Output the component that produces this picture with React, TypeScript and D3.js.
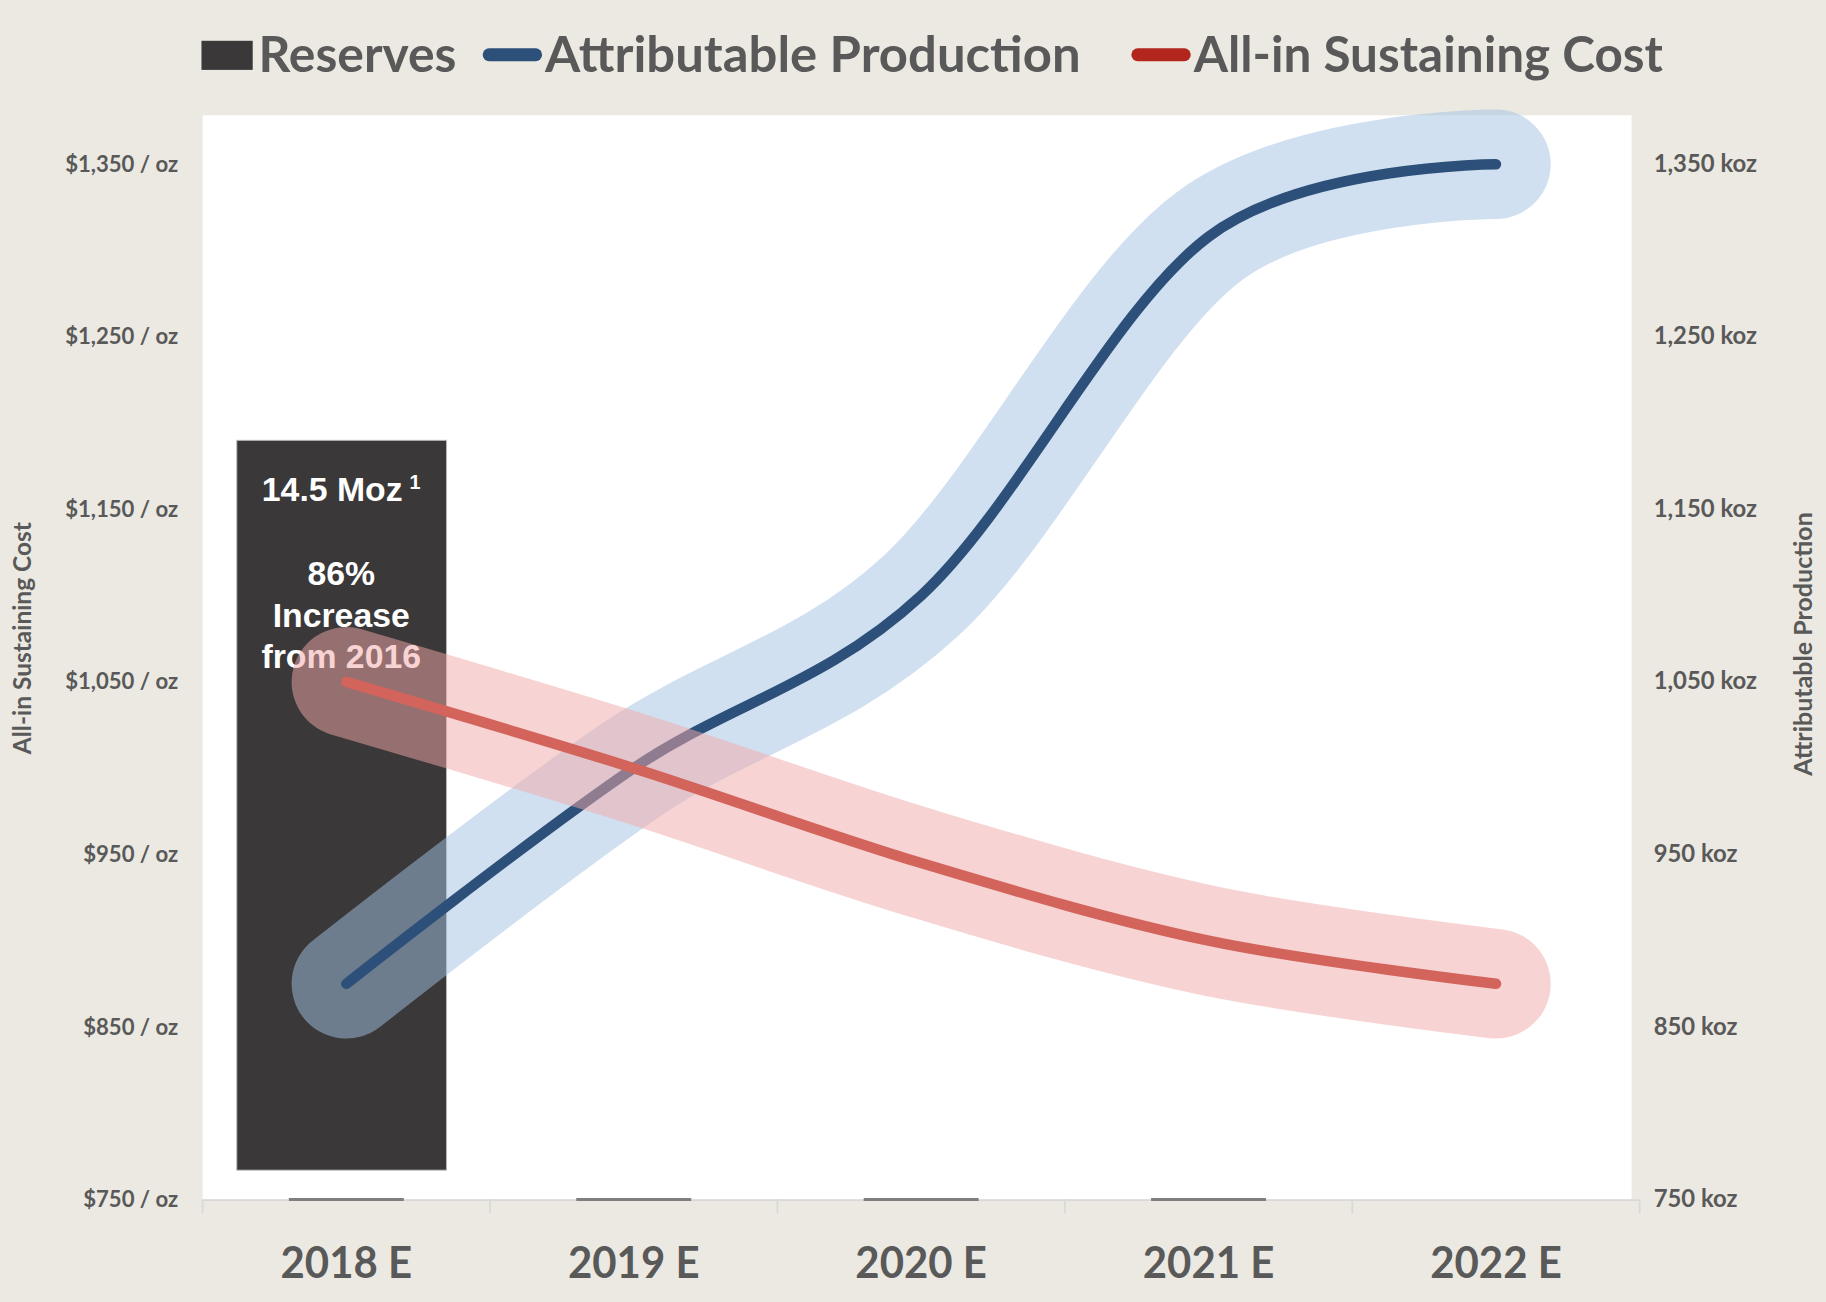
import React from "react";
import * as d3 from "d3";

const categories = ["2018 E", "2019 E", "2020 E", "2021 E", "2022 E"];
const production = [875, 1000, 1100, 1308, 1350];
const aisc = [1050, 1000, 945, 900, 875];
const reservesBar = [{ category: "2018 E", low: 767, high: 1190 }];
const baselineCategories = ["2018 E", "2019 E", "2020 E", "2021 E"];
const leftTicks = [750, 850, 950, 1050, 1150, 1250, 1350];
const rightTicks = [750, 850, 950, 1050, 1150, 1250, 1350];
const barLabelLines = ["14.5 Moz", "", "86%", "Increase", "from 2016"];
const legendItems = [
  { label: "Reserves", kind: "rect", color: "#3A3839" },
  { label: "Attributable Production", kind: "line", color: "#2C5079" },
  { label: "All-in Sustaining Cost", kind: "line", color: "#B3261E" },
];

const W = 1568;
const H = 1118;
const TXT = "#595959";
const FONT = "Lato, 'Open Sans', sans-serif";

export default function App() {
  const x = d3.scaleBand<string>().domain(categories).range([174, 1408]).padding(0);
  const y = d3.scaleLinear().domain([750, 1350]).range([1030, 141]);
  const yR = d3.scaleLinear().domain([750, 1350]).range([1030, 141]);
  const cx = (c: string) => (x(c) as number) + x.bandwidth() / 2;
  const fmt = d3.format(",");

  const line = d3
    .line<number>()
    .x((_, i) => cx(categories[i]))
    .curve(d3.curveCardinal.tension(0));

  const prodPath = line.y((v) => yR(v))(production) as string;
  const aiscPath = line.y((v) => y(v))(aisc) as string;

  const bw = x.bandwidth() * 0.73;
  const legendX = [173, 415, 972];
  const legendTextX = [222, 468, 1025];
  const legendTextW = [170, 460, 403];

  return (
    <svg
      width={1826}
      height={1302}
      viewBox={`0 0 ${W} ${H}`}
      style={{ position: "absolute", left: 0, top: 0, display: "block" }}
    >
      <rect x={0} y={0} width={W} height={H} fill="#EBE9E1" />
      <rect x={174} y={99} width={1227} height={931} fill="#FFFFFF" />

      {/* axis */}
      <line x1={174} x2={1408} y1={1030.5} y2={1030.5} stroke="#D9D9D9" strokeWidth={1.5} />
      {d3.range(categories.length + 1).map((i) => {
        const xx = 174 + i * x.step();
        return <line key={i} x1={xx} x2={xx} y1={1030} y2={1042} stroke="#D9D9D9" strokeWidth={1.5} />;
      })}
      {baselineCategories.map((c) => (
        <line
          key={c}
          x1={cx(c) - x.bandwidth() * 0.2}
          x2={cx(c) + x.bandwidth() * 0.2}
          y1={1030}
          y2={1030}
          stroke="#7F7F7F"
          strokeWidth={2.5}
        />
      ))}

      {/* bar */}
      {reservesBar.map((b) => (
        <rect
          key={b.category}
          x={cx(b.category) - 4 - bw / 2}
          y={y(b.high)}
          width={bw}
          height={y(b.low) - y(b.high)}
          fill="#3A3839"
          stroke="#BFBFBF"
          strokeWidth={0.8}
        />
      ))}
      {barLabelLines.map((t, i) =>
        t ? (
          <text
            key={i}
            x={293}
            y={430 + i * 36}
            textAnchor="middle"
            fill="#FFFFFF"
            fontFamily="'Liberation Sans', Arial, sans-serif"
            fontWeight="bold"
            fontSize={29}
          >
            {t}
            {i === 0 ? (
              <tspan dx={6} dy={-10} fontSize={17}>
                1
              </tspan>
            ) : null}
          </text>
        ) : null
      )}

      {/* lines */}
      <path d={prodPath} fill="none" stroke="rgb(161,193,225)" strokeOpacity={0.5} strokeWidth={94} strokeLinecap="round" strokeLinejoin="round" />
      <path d={prodPath} fill="none" stroke="#2C5079" strokeWidth={9} strokeLinecap="round" strokeLinejoin="round" />
      <path d={aiscPath} fill="none" stroke="rgb(241,167,167)" strokeOpacity={0.5} strokeWidth={94} strokeLinecap="round" strokeLinejoin="round" />
      <path d={aiscPath} fill="none" stroke="#D2645C" strokeWidth={9} strokeLinecap="round" strokeLinejoin="round" />

      {/* left ticks */}
      {leftTicks.map((v) => (
        <text key={v} x={153} y={y(v) + 6.5} textAnchor="end" fill={TXT} fontFamily={FONT} fontWeight="bold" fontSize={19}>
          {`$${fmt(v)} / oz`}
        </text>
      ))}
      {rightTicks.map((v) => (
        <text key={v} x={1420} y={yR(v) + 6.5} textAnchor="start" fill={TXT} fontFamily={FONT} fontWeight="bold" fontSize={20.5}>
          {`${fmt(v)} koz`}
        </text>
      ))}
      <text
        transform={`translate(27,548) rotate(-90)`}
        textAnchor="middle"
        fill={TXT}
        fontFamily={FONT}
        fontWeight="bold"
        fontSize={21}
      >
        All-in Sustaining Cost
      </text>
      <text
        transform={`translate(1556,553) rotate(-90)`}
        textAnchor="middle"
        fill={TXT}
        fontFamily={FONT}
        fontWeight="bold"
        fontSize={21.5}
      >
        Attributable Production
      </text>

      {/* x labels */}
      {categories.map((c) => (
        <text key={c} x={cx(c)} y={1097} textAnchor="middle" fill={TXT} fontFamily={FONT} fontWeight="bold" fontSize={37} textLength={113} lengthAdjust="spacingAndGlyphs">
          {c}
        </text>
      ))}

      {/* legend */}
      {legendItems.map((it, i) => (
        <g key={it.label}>
          {it.kind === "rect" ? (
            <rect x={legendX[i]} y={35} width={44} height={25} fill={it.color} />
          ) : (
            <line x1={legendX[i] + 5} x2={legendX[i] + 45} y1={47} y2={47} stroke={it.color} strokeWidth={11} strokeLinecap="round" />
          )}
          <text
            x={legendTextX[i]}
            y={62}
            fill={TXT}
            fontFamily={FONT}
            fontWeight="bold"
            fontSize={42}
            textLength={legendTextW[i]}
            lengthAdjust="spacingAndGlyphs"
          >
            {it.label}
          </text>
        </g>
      ))}
    </svg>
  );
}
